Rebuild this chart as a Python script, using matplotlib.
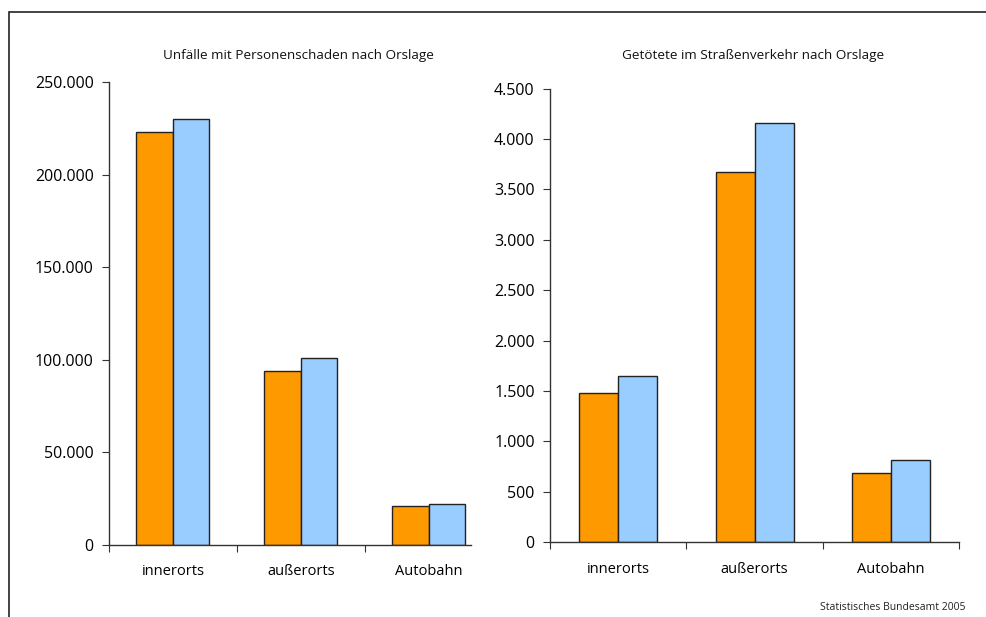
import matplotlib.pyplot as plt
from matplotlib.patches import Rectangle
from matplotlib.ticker import FuncFormatter, FixedLocator
import numpy as np

plt.rcParams['font.family'] = ['Open Sans', 'DejaVu Sans']

kategorien = ['innerorts', 'außerorts', 'Autobahn']

# Unfälle mit Personenschaden (zwei Jahre)
unfaelle_a = [223200, 94100, 21200]
unfaelle_b = [230200, 101100, 22300]

# Getötete im Straßenverkehr (zwei Jahre)
getoetete_a = [1484, 3674, 690]
getoetete_b = [1650, 4160, 813]

farbe_a = '#FF9900'
farbe_b = '#99CCFF'

W, H = 986, 617


def tausender(x, pos):
    return '{:,.0f}'.format(x).replace(',', '.')


def balken(ax, werte_a, werte_b, ymax, ystep, xmax):
    x = np.arange(len(kategorien))
    w = 0.285
    ax.bar(x - w / 2, werte_a, w, color=farbe_a, edgecolor='#222222', linewidth=1.0)
    ax.bar(x + w / 2, werte_b, w, color=farbe_b, edgecolor='#222222', linewidth=1.0)
    ax.set_xlim(-0.5, xmax)
    ax.set_ylim(0, ymax)
    ax.set_yticks(np.arange(0, ymax + 1, ystep))
    ax.yaxis.set_major_formatter(FuncFormatter(tausender))
    # Kategorie-Trennstriche als Major-Ticks, Beschriftung als Minor-Ticks
    grenzen = [g for g in np.arange(-0.5, len(kategorien), 1.0) if g <= xmax + 1e-9]
    ax.xaxis.set_major_locator(FixedLocator(grenzen))
    ax.xaxis.set_minor_locator(FixedLocator(x))
    ax.set_xticklabels([''] * len(grenzen))
    ax.set_xticklabels(kategorien, minor=True)
    ax.tick_params(axis='x', which='major', direction='out', length=5, color='#333333')
    ax.tick_params(axis='x', which='minor', length=0, pad=14, labelsize=10.5)
    ax.tick_params(axis='y', direction='out', length=5, color='#333333', labelsize=11.5, pad=6)
    for s in ['top', 'right']:
        ax.spines[s].set_visible(False)
    for s in ['left', 'bottom']:
        ax.spines[s].set_color('#333333')
        ax.spines[s].set_linewidth(1.0)


fig = plt.figure(figsize=(9.86, 6.17), dpi=100)

ax1 = fig.add_axes([0.1105, 0.1167, 0.3671, 0.7504])
balken(ax1, unfaelle_a, unfaelle_b, 250000, 50000, 2.33)

ax2 = fig.add_axes([0.5578, 0.1211, 0.4151, 0.7352])
balken(ax2, getoetete_a, getoetete_b, 4500, 500, 2.5)

fig.text(298 / W, 1 - 55 / H, 'Unfälle mit Personenschaden nach Orslage',
         ha='center', va='center', fontsize=9.7, color='#111111')
fig.text(753 / W, 1 - 55 / H, 'Getötete im Straßenverkehr nach Orslage',
         ha='center', va='center', fontsize=9.7, color='#111111')

# Rahmen um die Grafik
fig.patches.append(Rectangle((9 / W, -0.1), 1.2, 1.1 - 12 / H,
                             transform=fig.transFigure, fill=False,
                             edgecolor='#222222', linewidth=1.2))

fig.text(965 / W, 1 - 608 / H, 'Statistisches Bundesamt 2005',
         ha='right', va='center', fontsize=7.5, color='#222222')

fig.savefig('out.png', dpi=100)
